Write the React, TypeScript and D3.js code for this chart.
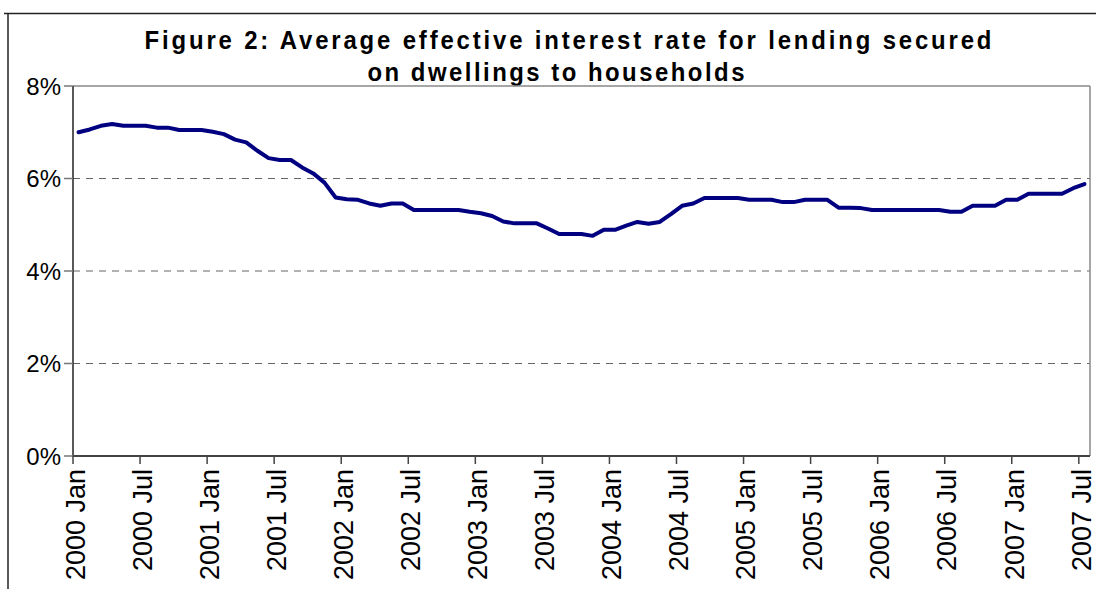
import React from "react";
import * as d3 from "d3";

const titleLines = [
  "Figure 2: Average effective interest rate for lending secured",
  "on dwellings to households",
];

// Monthly rates, 2000 Jan .. 2007 Jul (percent)
const rates = [
  7.0, 7.06, 7.14, 7.18, 7.14, 7.14, 7.14, 7.1, 7.1, 7.05, 7.05, 7.05,
  7.01, 6.96, 6.84, 6.78, 6.6, 6.44, 6.4, 6.4, 6.24, 6.11, 5.91, 5.59,
  5.55, 5.54, 5.46, 5.41, 5.46, 5.46, 5.32, 5.32, 5.32, 5.32, 5.32, 5.28,
  5.25, 5.19, 5.07, 5.03, 5.03, 5.03, 4.92, 4.8, 4.8, 4.8, 4.76, 4.89,
  4.89, 4.98, 5.06, 5.02, 5.06, 5.23, 5.41, 5.46, 5.58, 5.58, 5.58, 5.58,
  5.54, 5.54, 5.54, 5.49, 5.49, 5.54, 5.54, 5.54, 5.37, 5.37, 5.36, 5.32,
  5.32, 5.32, 5.32, 5.32, 5.32, 5.32, 5.28, 5.28, 5.41, 5.41, 5.41, 5.54,
  5.54, 5.67, 5.67, 5.67, 5.67, 5.79, 5.88,
];

const xTickLabels = [
  "2000 Jan", "2000 Jul", "2001 Jan", "2001 Jul", "2002 Jan", "2002 Jul",
  "2003 Jan", "2003 Jul", "2004 Jan", "2004 Jul", "2005 Jan", "2005 Jul",
  "2006 Jan", "2006 Jul", "2007 Jan", "2007 Jul",
];
const xTickStep = 6;
const totalMonths = 91;

const yTicks = [0, 2, 4, 6, 8];

export default function App() {
  const W = 1096;
  const H = 589;
  const left = 73;
  const right = 1090;
  const top = 86;
  const bottom = 456;

  const x = d3.scaleLinear().domain([0, totalMonths]).range([left, right]);
  const y = d3.scaleLinear().domain([0, 8]).range([bottom, top]);

  const line = d3
    .line<number>()
    .x((_, i) => x(i + 0.5))
    .y((d) => y(d));

  const font = "'Liberation Sans', Arial, sans-serif";
  const sx = 0.92;

  return (
    <svg
      width={W}
      height={H}
      style={{ position: "absolute", left: 0, top: 0, background: "#fff" }}
    >
      {/* outer chart border */}
      <line x1={4} x2={W} y1={13.5} y2={13.5} stroke="#222" strokeWidth={1.5} />
      <line x1={8} x2={8} y1={13} y2={H} stroke="#222" strokeWidth={1.5} />

      {/* title */}
      <text
        transform={`translate(568,49) scale(${sx},1)`}
        textAnchor="middle"
        fontFamily={font}
        fontWeight="bold"
        fontSize={26}
        textLength={847 / sx}
        lengthAdjust="spacing"
        fill="#000"
      >
        {titleLines[0]}
      </text>
      <text
        transform={`translate(556,81) scale(${sx},1)`}
        textAnchor="middle"
        fontFamily={font}
        fontWeight="bold"
        fontSize={26}
        textLength={377 / sx}
        lengthAdjust="spacing"
        fill="#000"
      >
        {titleLines[1]}
      </text>

      {/* gridlines */}
      {yTicks
        .filter((t) => t > 0 && t < 8)
        .map((t) => (
          <line
            key={"g" + t}
            x1={left}
            x2={right}
            y1={y(t)}
            y2={y(t)}
            stroke="#666"
            strokeWidth={1.2}
            strokeDasharray="7,6"
          />
        ))}

      {/* plot border top/right */}
      <line x1={left} x2={right} y1={top} y2={top} stroke="#888" strokeWidth={1.5} />
      <line x1={right} x2={right} y1={top} y2={bottom} stroke="#888" strokeWidth={1.5} />

      {/* y axis */}
      <line x1={left} x2={left} y1={top} y2={bottom} stroke="#222" strokeWidth={1.5} />
      {yTicks.map((t) => (
        <g key={"y" + t}>
          <line x1={left - 9} x2={left} y1={y(t)} y2={y(t)} stroke="#777" strokeWidth={1.5} />
          <text
            x={61}
            y={y(t)}
            dy="0.36em"
            textAnchor="end"
            fontFamily={font}
            fontSize={24}
            fill="#000"
          >
            {t + "%"}
          </text>
        </g>
      ))}

      {/* x axis */}
      <line x1={left} x2={right} y1={bottom} y2={bottom} stroke="#444" strokeWidth={2} />
      {xTickLabels.map((lab, k) => {
        const xx = x(k * xTickStep);
        return (
          <g key={lab}>
            <line x1={xx} x2={xx} y1={bottom} y2={bottom + 8} stroke="#444" strokeWidth={1.5} />
            <text
              transform={`translate(${xx + 2},${469}) rotate(-90)`}
              textAnchor="end"
              dy="0.36em"
              fontFamily={font}
              fontSize={27}
              fill="#000"
            >
              {lab}
            </text>
          </g>
        );
      })}

      {/* series */}
      <path
        d={line(rates) || ""}
        fill="none"
        stroke="#000080"
        strokeWidth={4}
        strokeLinejoin="round"
        strokeLinecap="round"
      />
    </svg>
  );
}
